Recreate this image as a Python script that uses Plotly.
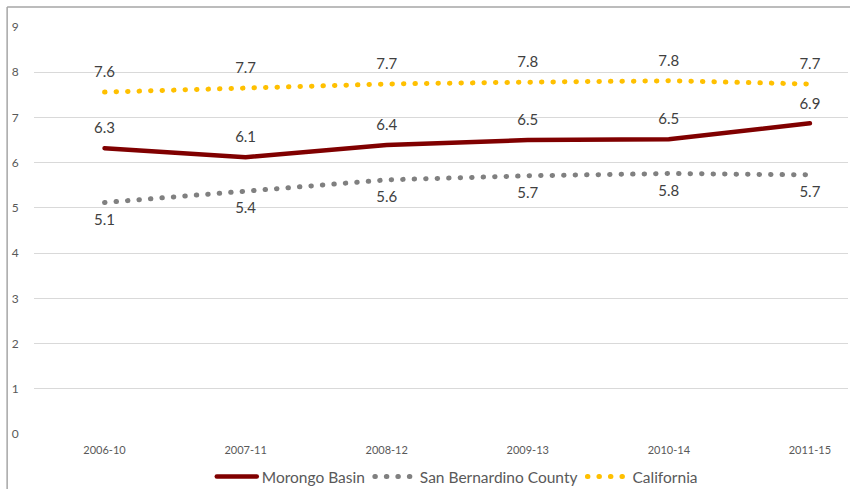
import plotly.graph_objects as go

categories = ["2006-10", "2007-11", "2008-12", "2009-13", "2010-14", "2011-15"]
morongo = [6.32, 6.12, 6.39, 6.50, 6.52, 6.87]
san_bernardino = [5.12, 5.37, 5.62, 5.71, 5.76, 5.73]
california = [7.56, 7.66, 7.74, 7.78, 7.81, 7.74]
y_ticks = [0, 1, 2, 3, 4, 5, 6, 7, 8, 9]

FONT = "Lato, Open Sans, sans-serif"
label_font = dict(family=FONT, size=15, color="#404040")
ghost = dict(size=16, color="rgba(0,0,0,0)")

fig = go.Figure()
fig.add_trace(go.Scatter(
    x=categories, y=morongo, name="Morongo Basin", mode="lines+markers+text",
    line=dict(color="#800000", width=4.5), marker=ghost,
    texttemplate="%{y:.1f}", textposition="top center", textfont=label_font,
))
fig.add_trace(go.Scatter(
    x=categories, y=san_bernardino, name="San Bernardino County", mode="lines+markers+text",
    line=dict(color="#808080", width=5, dash="0.5px,11px"), marker=ghost,
    texttemplate="%{y:.1f}", textposition="bottom center", textfont=label_font,
))
fig.add_trace(go.Scatter(
    x=categories, y=california, name="California", mode="lines+markers+text",
    line=dict(color="#FFC000", width=5, dash="0.5px,11px"), marker=ghost,
    texttemplate="%{y:.1f}", textposition="top center", textfont=label_font,
))

fig.update_layout(
    width=850, height=489,
    margin=dict(l=34, r=2, t=27, b=55, autoexpand=False),
    paper_bgcolor="white", plot_bgcolor="white",
    font=dict(family=FONT, color="#595959"),
    showlegend=True,
    legend=dict(orientation="h", x=0.52, xanchor="center", y=-0.064, yanchor="top",
                font=dict(family=FONT, size=15.5, color="#595959"),
                itemwidth=40, traceorder="normal"),
    xaxis=dict(type="category", range=[-0.5, 5.27], showgrid=False, zeroline=False,
               showline=False, ticks="outside", ticklen=6, tickcolor="rgba(0,0,0,0)",
               tickfont=dict(family=FONT, size=11, color="#595959")),
    yaxis=dict(range=[0, 9], tickvals=y_ticks, showgrid=True, gridcolor="#d9d9d9",
               gridwidth=1, zeroline=False, showline=False, ticks="outside",
               ticklen=12, tickcolor="rgba(0,0,0,0)",
               tickfont=dict(family=FONT, size=12, color="#595959")),
    shapes=[
        dict(type="line", xref="paper", yref="paper", x0=-0.033, x1=-0.033, y0=-0.2, y1=1.049,
             line=dict(color="#a6a6a6", width=1.5)),
        dict(type="line", xref="paper", yref="paper", x0=-0.033, x1=1.01, y0=1.049, y1=1.049,
             line=dict(color="#a6a6a6", width=1.5)),
    ],
)

fig.write_html(
    "out.html",
    config={"displayModeBar": False},
    post_script=(
        "document.body.style.margin='0';document.body.style.padding='0';"
        "document.querySelectorAll('.scatterlayer .js-line, .legend .js-line')"
        ".forEach(function(p){p.style.strokeLinecap='round';});"
    ),
)
